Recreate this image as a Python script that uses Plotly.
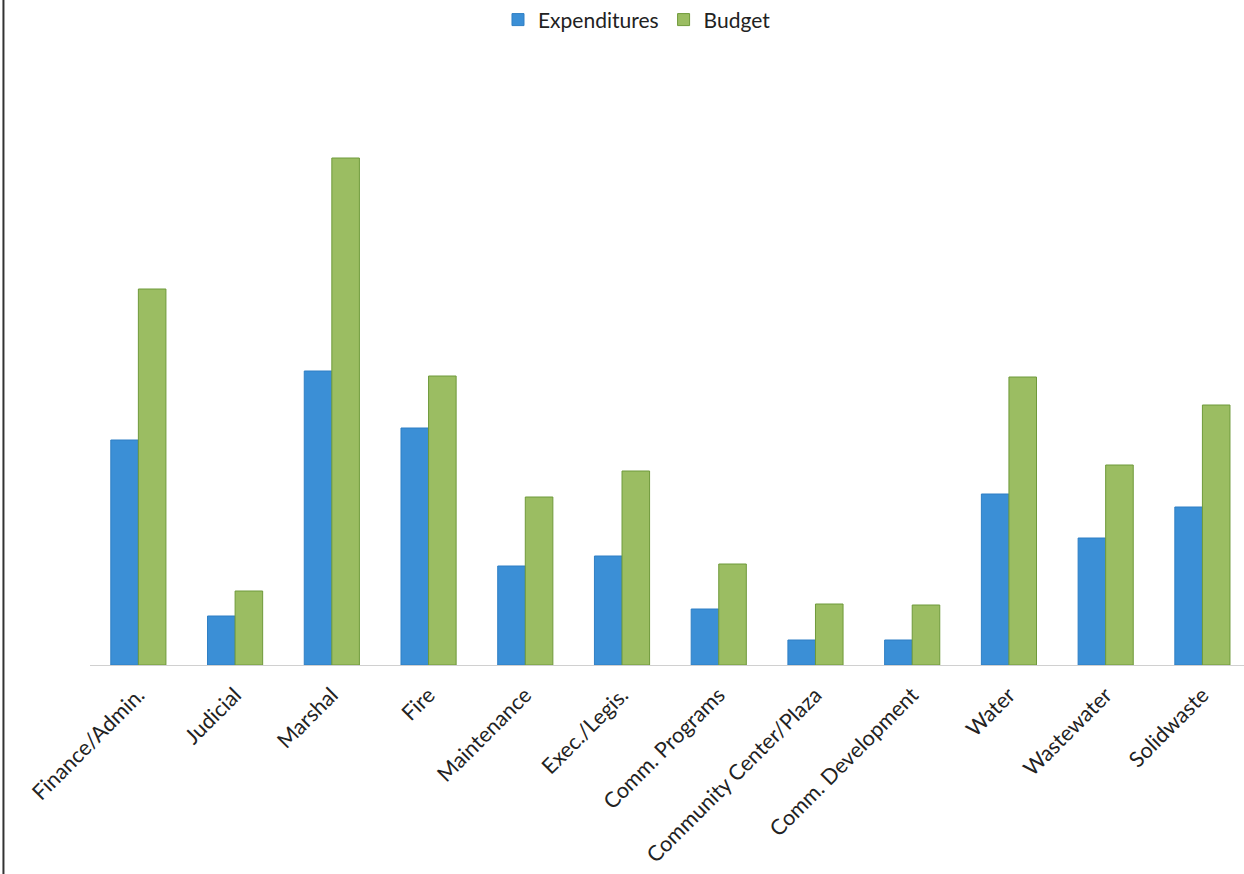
import plotly.graph_objects as go

categories = ["Finance/Admin.", "Judicial", "Marshal", "Fire", "Maintenance", "Exec./Legis.",
              "Comm. Programs", "Community Center/Plaza", "Comm. Development", "Water",
              "Wastewater", "Solidwaste"]
expenditures = [225, 49, 294, 237, 99, 109, 56, 25, 25, 171, 127, 158]
budget = [376, 74, 507, 289, 168, 194, 101, 61, 60, 288, 200, 260]

BLUE = "#3b8fd6"
GREEN = "#9bbd62"
FONT = "Lato"

fig = go.Figure()
fig.add_trace(go.Bar(name="Expenditures", x=categories, y=expenditures,
                     marker=dict(color=BLUE, line=dict(color="#2f7fc4", width=1))))
fig.add_trace(go.Bar(name="Budget", x=categories, y=budget,
                     marker=dict(color=GREEN, line=dict(color="#6f9a3a", width=1))))

fig.update_layout(
    width=1244, height=874,
    paper_bgcolor="white", plot_bgcolor="white",
    barmode="group", bargap=0.43, bargroupgap=0,
    margin=dict(l=89.6, r=0, t=0, b=209, autoexpand=False),
    font=dict(family=FONT, color="#222222"),
    legend=dict(orientation="h", x=0.474, xanchor="center", y=0.97, yanchor="middle",
                font=dict(size=21, family=FONT, color="#222222"), itemwidth=30),
    xaxis=dict(type="category", range=[-0.5, 11.43], tickangle=-45, automargin=False,
               tickfont=dict(size=21.5, family=FONT), showline=True, linecolor="#d0d0d0",
               linewidth=1, ticks="", showgrid=False, fixedrange=True, ticklabelstandoff=8),
    yaxis=dict(range=[0, 665], visible=False, showgrid=False, zeroline=False, automargin=False),
    shapes=[dict(type="line", xref="paper", yref="paper", x0=-0.075, x1=-0.075,
                 y0=-0.32, y1=1.0, line=dict(color="#333333", width=2))],
)

fig.write_html("out.html", config={"displayModeBar": False},
               post_script="document.body.style.margin='0';document.body.style.padding='0';")
